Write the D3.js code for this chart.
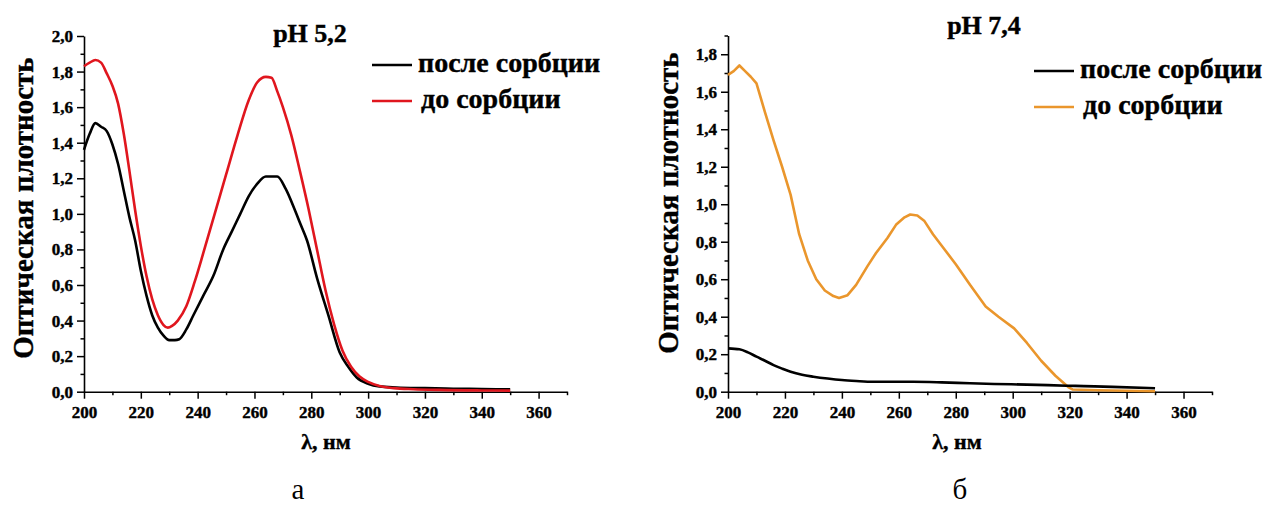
<!DOCTYPE html>
<html>
<head>
<meta charset="utf-8">
<script src="https://cdn.jsdelivr.net/npm/d3@7"></script>
<style>
  body { margin: 0; background: #fff; }
  svg { display: block; }
  svg text { font-family: 'Liberation Serif', 'Times New Roman', 'DejaVu Serif', serif; }
  svg text.heavy { stroke: #000; stroke-width: 0.4px; paint-order: stroke; }
</style>
</head>
<body>
<div id="chart"></div>
<script>
width = 1265
height = 508

// pH 5,2 : после сорбции (black)
wlAfter52 = [200, 202, 204, 206, 208, 210, 212, 214, 216, 218, 220, 222, 224, 226, 228, 230, 232, 233.5, 236, 238.5, 242, 245.5, 249, 252, 255, 258, 261, 264, 268, 271, 274, 276, 278.5, 282, 286, 290, 293, 296, 300, 304, 310, 320, 330, 340, 350]
absAfter52 = [1.36, 1.45, 1.51, 1.49, 1.465, 1.39, 1.28, 1.13, 0.98, 0.85, 0.68, 0.54, 0.43, 0.36, 0.315, 0.29, 0.29, 0.295, 0.35, 0.43, 0.54, 0.65, 0.8, 0.9, 1.0, 1.1, 1.17, 1.21, 1.21, 1.14, 1.03, 0.95, 0.85, 0.64, 0.43, 0.22, 0.14, 0.08, 0.045, 0.03, 0.024, 0.02, 0.017, 0.015, 0.013]

// pH 5,2 : до сорбции (red)
wlBefore52 = [200, 202, 204, 206, 208, 210, 212, 214, 216, 218, 220, 222, 224, 226, 228, 229.5, 231, 233, 236, 239, 242, 246, 250, 254, 258, 261, 264, 266, 268, 270, 273, 276, 279, 282, 285, 288, 291, 294, 297, 300, 304, 309, 316, 325, 340, 350]
absBefore52 = [1.83, 1.85, 1.865, 1.85, 1.79, 1.72, 1.62, 1.45, 1.24, 1.02, 0.82, 0.65, 0.52, 0.43, 0.375, 0.36, 0.37, 0.4, 0.48, 0.62, 0.78, 1.0, 1.22, 1.44, 1.64, 1.74, 1.77, 1.765, 1.69, 1.6, 1.44, 1.24, 1.03, 0.8, 0.57, 0.38, 0.23, 0.14, 0.085, 0.055, 0.032, 0.02, 0.014, 0.01, 0.007, 0.006]

// pH 7,4 : после сорбции (black)
wlAfter74 = [200, 204, 207, 210, 213, 216, 219, 222, 226, 230, 235, 240, 245, 251, 265, 275, 285, 293.5, 305, 319, 325, 335, 350]
absAfter74 = [0.231, 0.226, 0.21, 0.187, 0.165, 0.142, 0.123, 0.106, 0.09, 0.08, 0.07, 0.062, 0.057, 0.053, 0.053, 0.05, 0.045, 0.041, 0.038, 0.032, 0.03, 0.026, 0.018]

// pH 7,4 : до сорбции (orange)
wlBefore74 = [200, 202, 204, 206, 208, 210, 213, 216, 219, 222, 225, 228, 231, 234, 237, 239, 242, 245, 249, 252, 256, 259, 262, 264, 266.5, 269, 272, 275, 280, 285, 290.5, 295, 300.5, 305, 310, 315, 319.5, 321, 330, 340, 350]
absBefore74 = [1.69, 1.71, 1.74, 1.71, 1.68, 1.645, 1.49, 1.34, 1.2, 1.05, 0.84, 0.7, 0.6, 0.54, 0.51, 0.5, 0.515, 0.57, 0.67, 0.74, 0.82, 0.89, 0.93, 0.945, 0.94, 0.91, 0.84, 0.78, 0.68, 0.57, 0.455, 0.4, 0.338, 0.26, 0.165, 0.085, 0.025, 0.012, 0.008, 0.005, 0.002]

xTicks = [200, 220, 240, 260, 280, 300, 320, 340, 360]
xMinor = [210, 230, 250, 270, 290, 310, 330, 350, 370]
yTicks52 = [0, 0.2, 0.4, 0.6, 0.8, 1.0, 1.2, 1.4, 1.6, 1.8, 2.0]
yMinor52 = [0.1, 0.3, 0.5, 0.7, 0.9, 1.1, 1.3, 1.5, 1.7, 1.9]
yTicks74 = [0, 0.2, 0.4, 0.6, 0.8, 1.0, 1.2, 1.4, 1.6, 1.8]
yMinor74 = [0.1, 0.3, 0.5, 0.7, 0.9, 1.1, 1.3, 1.5, 1.7, 1.9]

legendLabels = ["после сорбции", "до сорбции"]
titles = ["pH 5,2", "pH 7,4"]
panelLetters = ["а", "б"]
yLabel = "Оптическая плотность"
xLabel = "λ, нм"

fmtY = d => d3.format(".1f")(d).replace(".", ",")

const panels = [
    {
        x0: 84, x1: 567, yMax: 2.0, yTop: 36, yTicks: yTicks52, yMinor: yMinor52,
        title: titles[0], titleX: 310, titleY: 42,
        letter: panelLetters[0], letterX: 298,
        yLabelX: 33, yLabelY: 208, xLabelX: 326,
        legX: 372, legY: 65,
        series: [
            { wl: wlAfter52, val: absAfter52, color: "#000000", curve: d3.curveMonotoneX },
            { wl: wlBefore52, val: absBefore52, color: "#e0161e", curve: d3.curveMonotoneX }
        ]
    },
    {
        x0: 728, x1: 1212, yMax: 1.9, yTop: 35.5, yTicks: yTicks74, yMinor: yMinor74,
        title: titles[1], titleX: 984, titleY: 34,
        letter: panelLetters[1], letterX: 960,
        yLabelX: 678, yLabelY: 203, xLabelX: 957,
        legX: 1034, legY: 71,
        series: [
            { wl: wlBefore74, val: absBefore74, color: "#ea962c", curve: d3.curveLinear },
            { wl: wlAfter74, val: absAfter74, color: "#000000", curve: d3.curveMonotoneX }
        ]
    }
]

const svg = d3.select("#chart").append("svg")
    .attr("width", width)
    .attr("height", height)

const yBottom = 391.7

panels.forEach(p => {
    const x = d3.scaleLinear([200, 370], [p.x0, p.x1])
    const y = d3.scaleLinear([0, p.yMax], [yBottom, p.yTop])

    // minor ticks first
    svg.append("g")
        .attr("transform", `translate(0,${yBottom})`)
        .call(d3.axisBottom(x).tickValues(xMinor).tickSize(3.5).tickSizeOuter(0).tickFormat(""))
        .call(g => g.select(".domain").remove())
    svg.append("g")
        .attr("transform", `translate(${p.x0},0)`)
        .call(d3.axisLeft(y).tickValues(p.yMinor).tickSize(3.5).tickSizeOuter(0).tickFormat(""))
        .call(g => g.select(".domain").remove())

    svg.append("g")
        .attr("class", "axis")
        .attr("transform", `translate(0,${yBottom})`)
        .call(d3.axisBottom(x).tickValues(xTicks).tickSize(7).tickPadding(7).tickSizeOuter(0).tickFormat(d3.format("d")))

    svg.append("g")
        .attr("class", "axis")
        .attr("transform", `translate(${p.x0},0)`)
        .call(d3.axisLeft(y).tickValues(p.yTicks).tickSize(7).tickPadding(4).tickSizeOuter(0).tickFormat(fmtY))

    svg.selectAll("g.tick line").attr("stroke", "#000").attr("stroke-width", 1.5)
    svg.selectAll(".domain").attr("stroke", "#000").attr("stroke-width", 1.6)
    svg.selectAll(".axis text")
        .attr("class", "heavy")
        .attr("font-weight", "bold")
        .attr("font-size", 17)
        .attr("fill", "#000")

    // curves
    p.series.forEach(s => {
        const line = d3.line()
            .x((d, i) => x(s.wl[i]))
            .y(d => y(d))
            .curve(s.curve)
        svg.append("path")
            .datum(s.val)
            .attr("fill", "none")
            .attr("stroke", s.color)
            .attr("stroke-width", 2.6)
            .attr("stroke-linejoin", "round")
            .attr("d", line)
    })

    // title
    svg.append("text")
        .attr("class", "heavy")
        .attr("x", p.titleX)
        .attr("y", p.titleY)
        .attr("text-anchor", "middle")
        .attr("font-weight", "bold")
        .attr("font-size", 26)
        .text(p.title)

    // legend: black line first row, coloured second row
    const legColors = ["#000000", p.series.find(s => s.color != "#000000").color]
    legendLabels.forEach((lab, i) => {
        const ly = p.legY + i * 36
        svg.append("line")
            .attr("x1", p.legX).attr("x2", p.legX + 40)
            .attr("y1", ly).attr("y2", ly)
            .attr("stroke", legColors[i])
            .attr("stroke-width", 2.6)
        svg.append("text")
            .attr("class", "heavy")
            .attr("x", p.legX + 46 + i * 3)
            .attr("y", ly + 7)
            .attr("font-weight", "bold")
            .attr("font-size", 28)
            .text(lab)
    })

    // axis titles
    svg.append("text")
        .attr("class", "heavy")
        .attr("transform", `translate(${p.yLabelX},${p.yLabelY}) rotate(-90)`)
        .attr("text-anchor", "middle")
        .attr("font-weight", "bold")
        .attr("font-size", 29)
        .text(yLabel)

    svg.append("text")
        .attr("class", "heavy")
        .attr("x", p.xLabelX)
        .attr("y", 449)
        .attr("text-anchor", "middle")
        .attr("font-weight", "bold")
        .attr("font-size", 22)
        .text(xLabel)

    // panel letter
    svg.append("text")
        .attr("x", p.letterX)
        .attr("y", 499)
        .attr("text-anchor", "middle")
        .attr("font-size", 29)
        .text(p.letter)
})
</script>
</body>
</html>
